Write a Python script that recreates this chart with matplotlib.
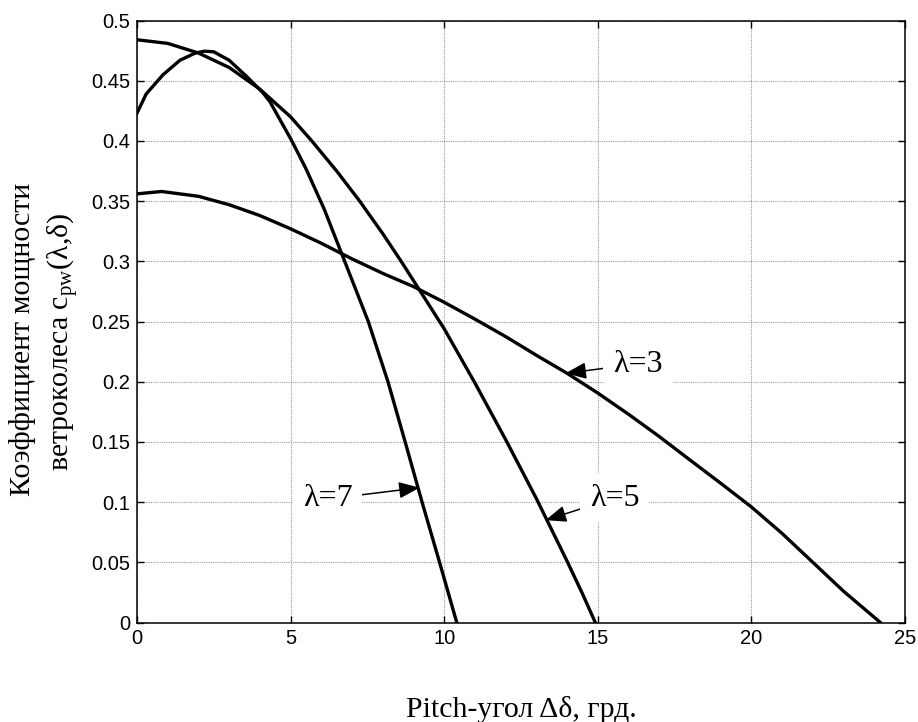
import matplotlib
matplotlib.use("Agg")
import matplotlib.pyplot as plt
from matplotlib.ticker import FormatStrFormatter

plt.rcParams['mathtext.fontset'] = 'custom'
plt.rcParams['mathtext.rm'] = 'Liberation Serif'
plt.rcParams['mathtext.it'] = 'Liberation Serif:italic'

# pitch angle (deg) and power coefficient for each tip speed ratio
x_l3 = [0, 0.8, 2, 3, 4, 5, 6, 7, 8, 9, 10, 11, 12, 13, 14, 15, 16, 17, 18, 19, 20, 21, 22, 23, 24.2]
cp_l3 = [0.356, 0.358, 0.354, 0.347, 0.338, 0.327, 0.315, 0.302, 0.290, 0.279, 0.266, 0.252, 0.2375,
         0.222, 0.207, 0.1906, 0.173, 0.1545, 0.135, 0.1157, 0.096, 0.074, 0.050, 0.026, 0.0]

x_l5 = [0, 1, 2, 3, 4, 5, 5.69, 6.5, 7.25, 8, 8.6, 9.25, 10, 11, 12, 13, 14, 14.5, 14.92]
cp_l5 = [0.484, 0.481, 0.473, 0.461, 0.443, 0.420, 0.400, 0.375, 0.350, 0.323, 0.300, 0.274,
         0.244, 0.199, 0.152, 0.103, 0.051, 0.024, 0.0]

x_l7 = [0, 0.3, 0.85, 1.4, 1.9, 2.2, 2.5, 3.0, 3.55, 4.1, 4.33, 5.02, 5.5, 6.1, 6.8, 7.53, 8.17,
        8.73, 9.28, 9.85, 10.41]
cp_l7 = [0.423, 0.439, 0.455, 0.467, 0.473, 0.4745, 0.474, 0.467, 0.454, 0.440, 0.4325, 0.401,
         0.377, 0.343, 0.2975, 0.250, 0.200, 0.150, 0.100, 0.050, 0.0]

labels = ['λ=3', 'λ=5', 'λ=7']

fig = plt.figure(figsize=(9.18, 7.22), dpi=100)
ax = fig.add_axes([0.1492, 0.1378, 0.8366, 0.8338])

for xs, ys in [(x_l3, cp_l3), (x_l5, cp_l5), (x_l7, cp_l7)]:
    ax.plot(xs, ys, color='black', lw=2.4, solid_joinstyle='round')

ax.set_xlim(0, 25)
ax.set_ylim(0, 0.5)
ax.set_xticks(range(0, 26, 5))
ax.set_yticks([i * 0.05 for i in range(11)])
ax.yaxis.set_major_formatter(FormatStrFormatter('%g'))
ax.grid(True, color='0.6', ls=(0, (1, 1)), lw=0.8)
ax.tick_params(direction='in', top=True, right=True, length=5, width=1, pad=5)
for lab in ax.get_xticklabels() + ax.get_yticklabels():
    lab.set_fontfamily('Liberation Sans')
    lab.set_fontsize(14.5)
for s in ax.spines.values():
    s.set_linewidth(1.1)

# curve labels with arrows
box = dict(boxstyle='square,pad=0.3', fc='white', ec='none')
arrow = dict(arrowstyle='-|>,head_length=0.55,head_width=0.22', color='black', lw=1.1,
             shrinkA=0, shrinkB=0)
ax.annotate(labels[0], xy=(13.95, 0.207), xytext=(16.3, 0.2147), ha='center', va='center',
            fontsize=23, family='Liberation Serif', bbox=box, arrowprops=arrow)
ax.annotate(labels[1], xy=(13.3, 0.085), xytext=(15.55, 0.1034), ha='center', va='center',
            fontsize=23, family='Liberation Serif', bbox=box, arrowprops=arrow)
ax.annotate(labels[2], xy=(9.2, 0.112), xytext=(6.21, 0.1026), ha='center', va='center',
            fontsize=23, family='Liberation Serif', bbox=box, arrowprops=arrow)

ax.set_xlabel('Pitch-угол Δδ, грд.', family='Liberation Serif', fontsize=21.5)
ax.xaxis.set_label_coords(0.5, -0.122)
fig.text(0.025, 0.530, 'Коэффициент мощности', rotation=90, ha='center', va='center',
         family='Liberation Serif', fontsize=21.5)
fig.text(0.0687, 0.527, 'ветроколеса $\\mathrm{c_{pw}}$(λ,δ)', rotation=90, ha='center',
         va='center', family='Liberation Serif', fontsize=21.5)

fig.savefig('out.png', dpi=100)
